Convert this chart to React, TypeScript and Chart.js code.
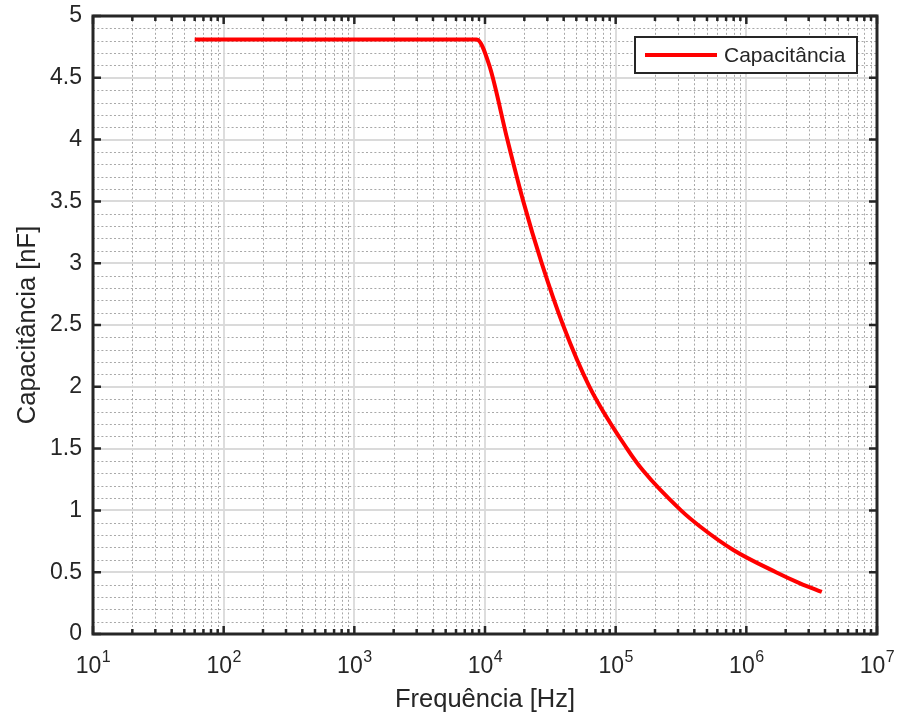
import React, { useEffect, useRef } from 'react';
import { Chart, registerables } from 'chart.js';

Chart.register(...registerables);

// ---- Data ----
const frequencies = [60, 8630, 10790, 14830, 19640, 27160, 39540, 63060, 122100, 162600, 316200, 442300, 794900, 1687000, 2575000, 3780000];
const capacitance = [4.81, 4.81, 4.6, 4.0, 3.5, 3.0, 2.5, 2.0, 1.5, 1.32, 1.0, 0.87, 0.68, 0.5, 0.41, 0.34];
const xDecades = [1e1, 1e2, 1e3, 1e4, 1e5, 1e6, 1e7];
const xExponents = ['1', '2', '3', '4', '5', '6', '7'];
const yMin = 0;
const yMax = 5;
const yStep = 0.5;
const seriesLabel = 'Capacitância';
const xTitle = 'Frequência [Hz]';
const yTitle = 'Capacitância [nF]';

const FONT = '"Liberation Sans", Arial, Helvetica, sans-serif';
const AXIS_COLOR = '#262626';

const matlabAxesPlugin = {
  id: 'matlabAxes',
  beforeDatasetsDraw(chart: any) {
    const { ctx, chartArea, scales } = chart;
    const { left, right, top, bottom } = chartArea;
    const x = scales.x;
    const y = scales.y;
    ctx.save();
    // minor grid (dotted)
    ctx.setLineDash([2, 2.2]);
    ctx.strokeStyle = '#a8a8a8';
    ctx.lineWidth = 1;
    ctx.beginPath();
    for (let d = 0; d < xDecades.length - 1; d++) {
      for (let k = 2; k <= 9; k++) {
        const px = Math.round(x.getPixelForValue(xDecades[d] * k)) + 0.5;
        ctx.moveTo(px, top);
        ctx.lineTo(px, bottom);
      }
    }
    for (let i = 1; i < Math.round((yMax - yMin) * 10); i++) {
      if (i % 5 === 0) continue;
      const py = Math.round(y.getPixelForValue(yMin + i / 10)) + 0.5;
      ctx.moveTo(left, py);
      ctx.lineTo(right, py);
    }
    ctx.stroke();
    // major grid (solid)
    ctx.setLineDash([]);
    ctx.strokeStyle = '#dadada';
    ctx.lineWidth = 1.8;
    ctx.beginPath();
    for (const v of xDecades) {
      const px = Math.round(x.getPixelForValue(v));
      ctx.moveTo(px, top);
      ctx.lineTo(px, bottom);
    }
    for (let v = yMin; v <= yMax + 1e-9; v += yStep) {
      const py = Math.round(y.getPixelForValue(v));
      ctx.moveTo(left, py);
      ctx.lineTo(right, py);
    }
    ctx.stroke();
    ctx.restore();
  },
  afterDatasetsDraw(chart: any) {
    const { ctx, chartArea, scales } = chart;
    const { left, right, top, bottom } = chartArea;
    const x = scales.x;
    const y = scales.y;
    ctx.save();
    ctx.strokeStyle = AXIS_COLOR;
    ctx.setLineDash([]);
    // tick marks (inside, on all four sides)
    ctx.lineWidth = 2.5;
    ctx.beginPath();
    for (let d = 0; d < xDecades.length; d++) {
      const px = x.getPixelForValue(xDecades[d]);
      ctx.moveTo(px, bottom);
      ctx.lineTo(px, bottom - 8);
      ctx.moveTo(px, top);
      ctx.lineTo(px, top + 8);
      if (d < xDecades.length - 1) {
        for (let k = 2; k <= 9; k++) {
          const pm = x.getPixelForValue(xDecades[d] * k);
          ctx.moveTo(pm, bottom);
          ctx.lineTo(pm, bottom - 5);
          ctx.moveTo(pm, top);
          ctx.lineTo(pm, top + 5);
        }
      }
    }
    for (let v = yMin; v <= yMax + 1e-9; v += yStep) {
      const py = y.getPixelForValue(v);
      ctx.moveTo(left, py);
      ctx.lineTo(left + 8, py);
      ctx.moveTo(right, py);
      ctx.lineTo(right - 8, py);
    }
    ctx.stroke();
    // box
    ctx.lineWidth = 3;
    ctx.strokeRect(left, top, right - left, bottom - top);

    // x tick labels 10^n
    ctx.fillStyle = AXIS_COLOR;
    ctx.textBaseline = 'alphabetic';
    ctx.textAlign = 'left';
    xDecades.forEach((v, i) => {
      const px = x.getPixelForValue(v);
      ctx.font = `23px ${FONT}`;
      const w1 = ctx.measureText('10').width;
      ctx.font = `16px ${FONT}`;
      const w2 = ctx.measureText(xExponents[i]).width;
      const x0 = px - (w1 + w2) / 2;
      ctx.font = `23px ${FONT}`;
      ctx.fillText('10', x0, 673);
      ctx.font = `16px ${FONT}`;
      ctx.fillText(xExponents[i], x0 + w1 + 0.5, 662);
    });

    // legend
    const ds = chart.data.datasets[0];
    const lx = 635, ly = 37, lw = 222, lh = 36;
    ctx.fillStyle = '#ffffff';
    ctx.fillRect(lx, ly, lw, lh);
    ctx.lineWidth = 2;
    ctx.strokeStyle = AXIS_COLOR;
    ctx.strokeRect(lx, ly, lw, lh);
    ctx.strokeStyle = ds.borderColor;
    ctx.lineWidth = 4;
    ctx.beginPath();
    ctx.moveTo(lx + 10, ly + lh / 2);
    ctx.lineTo(lx + 82, ly + lh / 2);
    ctx.stroke();
    ctx.fillStyle = AXIS_COLOR;
    ctx.font = `21px ${FONT}`;
    ctx.textBaseline = 'middle';
    ctx.fillText(ds.label, lx + 89, ly + lh / 2 + 1);
    ctx.restore();
  },
};

export default function App() {
  const canvasRef = useRef<HTMLCanvasElement | null>(null);

  useEffect(() => {
    if (!canvasRef.current) return;
    const chart = new Chart(canvasRef.current, {
      type: 'line',
      data: {
        datasets: [
          {
            label: seriesLabel,
            data: frequencies.map((f, i) => ({ x: f, y: capacitance[i] })),
            borderColor: '#ff0000',
            borderWidth: 4,
            pointRadius: 0,
            fill: false,
            cubicInterpolationMode: 'monotone',
            borderJoinStyle: 'round',
          },
        ],
      },
      options: {
        responsive: false,
        animation: false,
        layout: { padding: { left: 0, right: 21, top: 16, bottom: 0 } },
        plugins: { legend: { display: false }, tooltip: { enabled: false } },
        scales: {
          x: {
            type: 'logarithmic',
            min: 10,
            max: 1e7,
            afterBuildTicks: (scale: any) => {
              scale.ticks = xDecades.map((v) => ({ value: v }));
            },
            afterFit: (scale: any) => {
              scale.height = 86;
              scale.paddingLeft = 0;
              scale.paddingRight = 0;
            },
            grid: { display: false, drawTicks: false },
            border: { display: false },
            ticks: { display: false },
            title: {
              display: true,
              text: xTitle,
              color: AXIS_COLOR,
              font: { family: FONT, size: 25.5 },
              padding: { top: 0, bottom: 5 },
            },
          },
          y: {
            type: 'linear',
            min: yMin,
            max: yMax,
            afterFit: (scale: any) => {
              scale.width = 93;
              scale.paddingTop = 0;
              scale.paddingBottom = 0;
            },
            grid: { display: false, drawTicks: false },
            border: { display: false },
            ticks: {
              stepSize: yStep,
              color: AXIS_COLOR,
              font: { family: FONT, size: 23 },
              padding: 11,
              callback: (v: any) => String(Number(v)),
            },
            title: {
              display: true,
              text: yTitle,
              color: AXIS_COLOR,
              font: { family: FONT, size: 25.5 },
              padding: { top: 13, bottom: 0 },
            },
          },
        },
      },
      plugins: [matlabAxesPlugin],
    } as any);
    return () => chart.destroy();
  }, []);

  return (
    <div style={{ position: 'absolute', left: 0, top: 0, width: 898, height: 720, background: '#ffffff' }}>
      <canvas ref={canvasRef} width={898} height={720} style={{ display: 'block' }} />
    </div>
  );
}
